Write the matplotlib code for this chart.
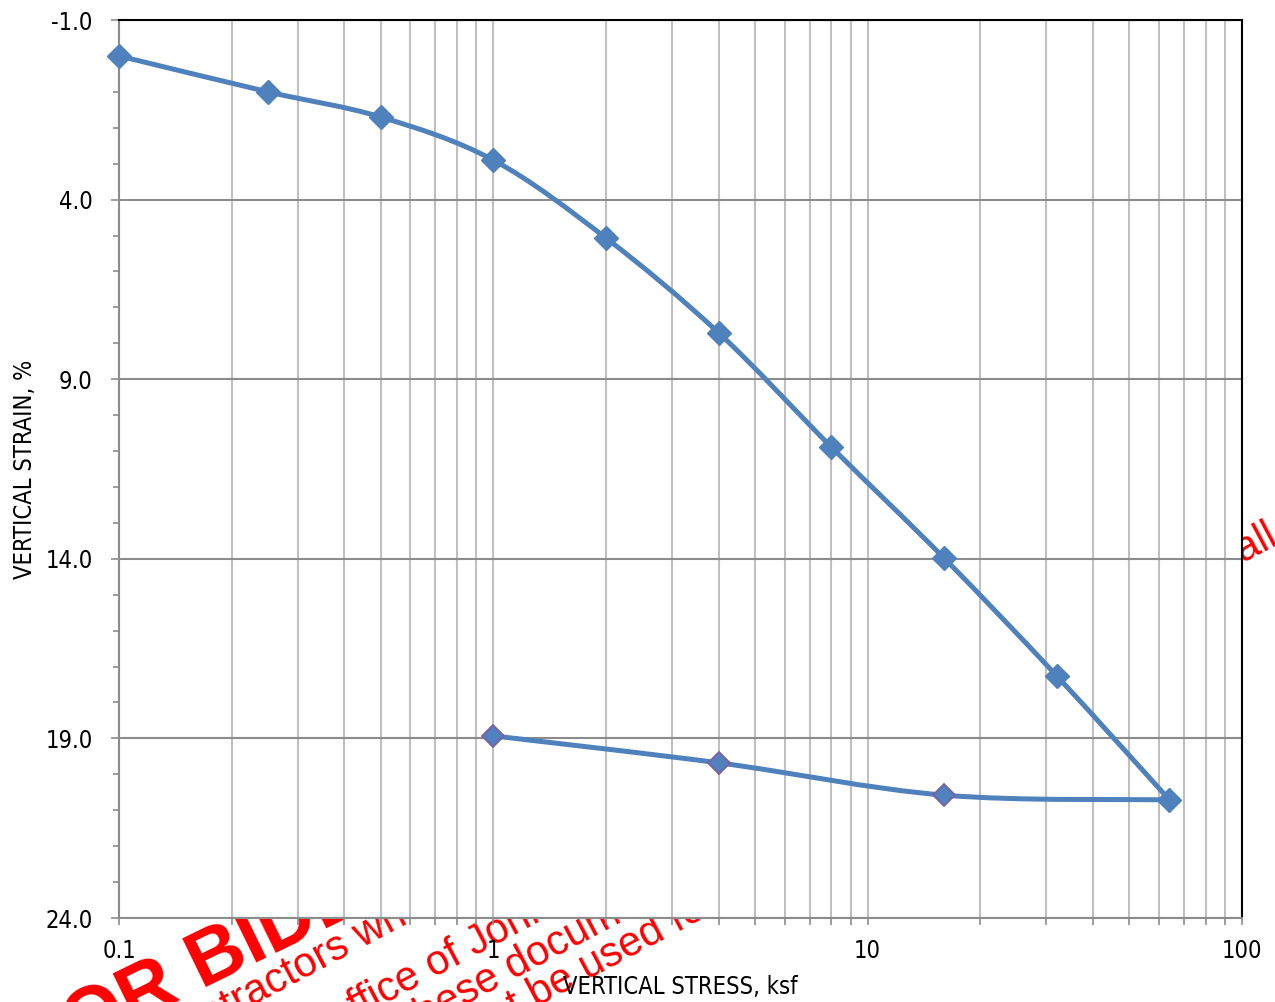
import numpy as np
import matplotlib
matplotlib.use("Agg")
import matplotlib.pyplot as plt
from matplotlib.path import Path
from matplotlib.patches import PathPatch
from matplotlib.ticker import LogLocator, FixedLocator, FixedFormatter, NullFormatter

plt.rcParams['font.family'] = ['DejaVu Sans']
plt.rcParams['font.stretch'] = 'condensed'

# Consolidation test: loading and unloading branches
load_stress = [0.1, 0.25, 0.5, 1, 2, 4, 8, 16, 32, 64]
load_strain = [0.0, 1.0, 1.7, 2.9, 5.07, 7.71, 10.89, 13.98, 17.26, 20.71]
unload_stress = [64, 16, 4, 1]
unload_strain = [20.71, 20.58, 19.68, 18.93]

y_ticks = [-1.0, 4.0, 9.0, 14.0, 19.0, 24.0]
y_tick_labels = ["-1.0", "4.0", "9.0", "14.0", "19.0", "24.0"]
x_ticks = [0.1, 1, 10, 100]
x_tick_labels = ["0.1", "1", "10", "100"]

BLUE = "#4F81BD"
PURPLE = "#7F5FA3"

W, H = 1275, 1002
fig = plt.figure(figsize=(W / 100, H / 100), dpi=100)
ax = fig.add_axes([119 / W, 1 - 918 / H, (1242 - 119) / W, (918 - 20) / H])
ax.set_zorder(1)
ax.set_facecolor("white")

ax.set_xscale("log")
ax.set_xlim(0.1, 100)
ax.set_ylim(24, -1)

# grid
ax.xaxis.set_major_locator(FixedLocator(x_ticks))
ax.xaxis.set_major_formatter(FixedFormatter(x_tick_labels))
ax.xaxis.set_minor_locator(LogLocator(base=10, subs=np.arange(2, 10)))
ax.xaxis.set_minor_formatter(NullFormatter())
ax.yaxis.set_major_locator(FixedLocator(y_ticks))
ax.yaxis.set_major_formatter(FixedFormatter(y_tick_labels))
ax.yaxis.set_minor_locator(FixedLocator(np.arange(-1, 25, 1)))
ax.grid(True, axis="x", which="both", color="#C0C0C0", lw=1.5)
ax.grid(True, axis="y", which="major", color="#8C8C8C", lw=1.5)
ax.set_axisbelow(True)

for s in ["left", "bottom"]:
    ax.spines[s].set_color("#8C8C8C")
    ax.spines[s].set_linewidth(1.5)
for s in ["top", "right"]:
    ax.spines[s].set_color("black")
    ax.spines[s].set_linewidth(1.5)

ax.tick_params(axis="both", which="both", direction="out", color="#8C8C8C", width=1.2)
ax.tick_params(axis="y", which="major", length=6, pad=13, labelsize=17)
ax.tick_params(axis="y", which="minor", length=4.5)
ax.tick_params(axis="x", which="both", length=5, pad=10, labelsize=17)
ax.tick_params(top=False, right=False, which="both")

ax.set_xlabel("VERTICAL STRESS, ksf", fontsize=17, va="center")
ax.xaxis.set_label_coords(0.5, (918 - 987) / 898)
ax.set_ylabel("VERTICAL STRAIN, %", fontsize=17, va="center")
ax.yaxis.set_label_coords((25 - 119) / 1123, 0.5)


def smooth_path(xs, ys):
    """Bezier path through the points, with Catmull-Rom style tangents in display space."""
    pts = ax.transData.transform(np.column_stack([xs, ys]))
    n = len(pts)
    verts = [pts[0]]
    codes = [Path.MOVETO]
    for i in range(n - 1):
        p0 = pts[i - 1] if i > 0 else pts[i]
        p1, p2 = pts[i], pts[i + 1]
        p3 = pts[i + 2] if i + 2 < n else pts[i + 1]
        c1 = p1 + (p2 - p0) / 6.0
        c2 = p2 - (p3 - p1) / 6.0
        verts += [c1, c2, p2]
        codes += [Path.CURVE4] * 3
    data = ax.transData.inverted().transform(np.array(verts))
    return Path(data, codes)


ax.add_patch(PathPatch(smooth_path(unload_stress, unload_strain), fill=False,
                       edgecolor=BLUE, lw=3.6, capstyle="round", joinstyle="round", zorder=3))
ax.plot(unload_stress[1:], unload_strain[1:], ls="none", marker="D", ms=11,
        mfc=BLUE, mec=PURPLE, mew=1.3, zorder=4)
ax.add_patch(PathPatch(smooth_path(load_stress, load_strain), fill=False,
                       edgecolor=BLUE, lw=3.6, capstyle="round", joinstyle="round", zorder=5))
ax.plot(load_stress, load_strain, ls="none", marker="D", ms=12,
        mfc=BLUE, mec=BLUE, mew=1, zorder=6, clip_on=False)

# watermark stamped across the sheet, hidden by the plot area
wm = dict(color="#FF0000", rotation_mode="anchor", ha="left",
          va="baseline", zorder=-5, family="Liberation Sans", stretch="normal")
fig.text(-132 / W, 1 - 1152 / H, "NOT FOR BIDDING PURPOSES", fontsize=56,
         fontweight="bold", rotation=26, **wm)
fig.text(170 / W, 1 - 1050 / H, "contractors who obtain", fontsize=30, rotation=28, **wm)
fig.text(336 / W, 1 - 1030 / H, "office of John", fontsize=30, rotation=28, **wm)
fig.text(413 / W, 1 - 1033 / H, "these documents", fontsize=30, rotation=28, **wm)
fig.text(475 / W, 1 - 1040 / H, "not be used for", fontsize=30, rotation=28, **wm)
fig.text(1205 / W, 1 - 583 / H, "shall", fontsize=30, rotation=28, **wm)

fig.savefig("out.png", dpi=100, facecolor="white")
